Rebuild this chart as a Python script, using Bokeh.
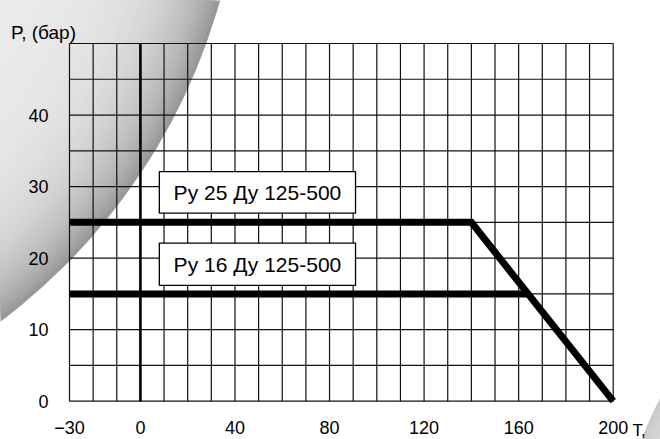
import numpy as np
from bokeh.plotting import figure
from bokeh.models import LinearAxis, FixedTicker, Range1d, Label
from bokeh.core.properties import value
from bokeh.embed import file_html
from bokeh.resources import INLINE

# ---------------- data ----------------
temp_ticks = [-30, 0, 40, 80, 120, 160, 200]          # x tick labels (T)
pres_ticks = [0, 10, 20, 30, 40]                       # y tick labels (P)
grid_t = list(range(-30, 201, 10))                     # vertical grid lines
grid_p = list(range(0, 51, 5))                         # horizontal grid lines
py25_t = [-30, 140, 200]
py25_p = [25, 25, 0]
py16_t = [-30, 164]
py16_p = [15, 15]
series_labels = ["Ру 25 Ду 125-500", "Ру 16 Ду 125-500"]
y_title = "P, (бар)"
x_title = "T,"

# label boxes (data coordinates)
box_left = [8, 8]
box_right = [91, 91]
box_bottom = [26.3, 16.2]
box_top = [32.1, 22.1]

# ---------------- layout ----------------
W, H = 660, 439
M = 0
sx = (612.7 - 69) / 230.0
x_start = -30 - (69 - M) / sx
x_end = x_start + W / sx
sy = (400.7 - 43) / 50.0
y_end = 50 + (43 - M) / sy
y_start = y_end - H / sy


def dx(px):
    return x_start + (px - M) / sx


def dy(py):
    return y_end - (py - M) / sy


FONT = "Liberation Sans"

p = figure(width=W, height=H, x_range=Range1d(x_start, x_end),
           y_range=Range1d(y_start, y_end), x_axis_type=None, y_axis_type=None,
           output_backend="svg", toolbar_location=None, min_border=0,
           outline_line_color=None, background_fill_color="white",
           border_fill_color="white")

# decorative shaded sphere (upper left)
R = 605
radii = np.arange(R, R - 360, -4.0)
d = R - radii
g = np.clip(np.round(236 - 84 * np.exp(-d / 48.0)), 0, 255).astype(int)
cols = ["#%02x%02x%02x" % (v, v, v) for v in g]
n = len(radii)
p.ellipse(x=[dx(-363)] * n, y=[dy(-163)] * n, width=2 * radii, height=2 * radii,
          width_units="screen", height_units="screen", fill_color=cols,
          line_color=None, level="image")

# decorative shape (bottom right)
R2 = 400
radii2 = np.arange(R2, R2 - 120, -3.0)
d2 = R2 - radii2
g2 = np.clip(np.round(232 - 30 * np.exp(-d2 / 25.0)), 0, 255).astype(int)
cols2 = ["#%02x%02x%02x" % (v, v, v) for v in g2]
n2 = len(radii2)
p.ellipse(x=[dx(1014)] * n2, y=[dy(583)] * n2, width=2 * radii2, height=2 * radii2,
          width_units="screen", height_units="screen", fill_color=cols2,
          line_color=None, level="image")

# grid
p.segment(x0=grid_t, y0=[grid_p[0]] * len(grid_t), x1=grid_t, y1=[grid_p[-1]] * len(grid_t),
          line_color="#111111", line_width=1.2, level="underlay")
p.segment(x0=[grid_t[0]] * len(grid_p), y0=grid_p, x1=[grid_t[-1]] * len(grid_p), y1=grid_p,
          line_color="#111111", line_width=1.2, level="underlay")
p.segment(x0=[0], y0=[grid_p[0]], x1=[0], y1=[grid_p[-1]],
          line_color="black", line_width=2.6, level="underlay")

# series lines
p.line(py25_t, py25_p, line_width=7, line_color="black", line_join="miter", line_cap="butt")
p.line(py16_t, py16_p, line_width=7, line_color="black", line_join="miter", line_cap="butt")

# label boxes
p.quad(left=box_left, right=box_right, bottom=box_bottom, top=box_top,
       fill_color="white", line_color="black", line_width=1.3)
p.text(x=[(l + r) / 2 for l, r in zip(box_left, box_right)],
       y=[(b + t) / 2 for b, t in zip(box_bottom, box_top)],
       text=series_labels, text_align="center", text_baseline="middle",
       text_font=value(FONT), text_font_size="21px", text_color="black")

# axes inside the frame
xax = LinearAxis(fixed_location=0, ticker=FixedTicker(ticks=temp_ticks),
                 major_label_overrides={-30: "−30"},
                 axis_line_color=None, major_tick_line_color=None,
                 minor_tick_line_color=None, major_tick_out=0, major_tick_in=0,
                 major_label_standoff=20, major_label_text_font=FONT,
                 major_label_text_font_size="18px", major_label_text_color="black")
p.add_layout(xax, "below")
yax = LinearAxis(fixed_location=-30, ticker=FixedTicker(ticks=pres_ticks),
                 axis_line_color=None, major_tick_line_color=None,
                 minor_tick_line_color=None, major_tick_out=0, major_tick_in=0,
                 major_label_standoff=21, major_label_text_font=FONT,
                 major_label_text_font_size="18px", major_label_text_color="black")
p.add_layout(yax, "left")

# axis titles
p.add_layout(Label(x=dx(10.5), y=dy(32), text=y_title, text_align="left",
                   text_baseline="alphabetic", text_font=FONT,
                   text_font_size="19px", text_color="black"))
p.add_layout(Label(x=dx(632), y=dy(430), text=x_title, text_align="left",
                   text_baseline="alphabetic", text_font=FONT,
                   text_font_size="17px", text_color="black"))

open("out.html", "w").write(file_html(p, INLINE))
